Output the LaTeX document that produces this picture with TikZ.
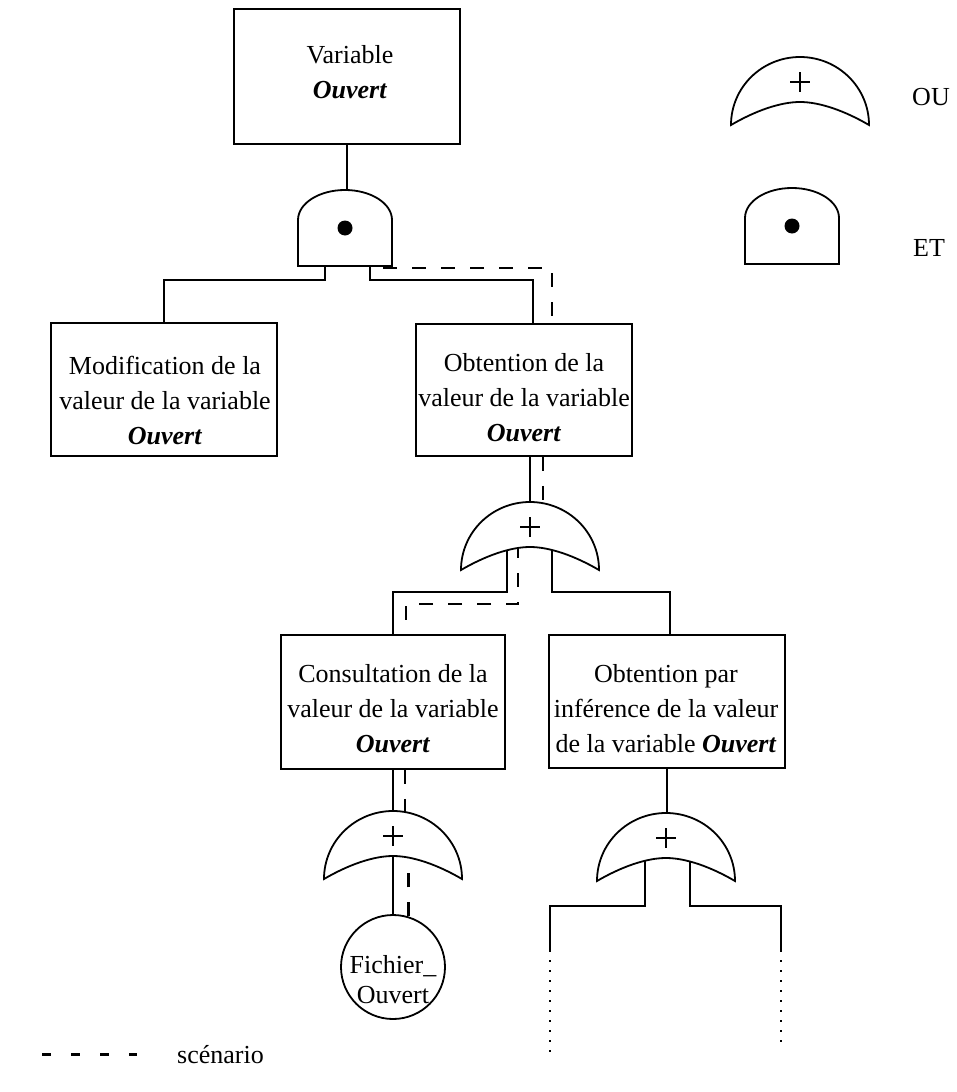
\documentclass[tikz,border=0pt]{standalone}
\usepackage{fontspec}
\setmainfont{Liberation Serif}
\usetikzlibrary{calc}

\begin{document}
\begin{tikzpicture}[x=1pt,y=-1pt,
  evbox/.style={draw, rectangle, fill=white, inner sep=0pt, line width=1.8pt},
  txt/.style={align=center, inner sep=0pt, font=\fontsize{26}{35}\selectfont},
  wire/.style={line width=1.7pt},
  scen/.style={line width=2.4pt, dash pattern=on 14pt off 15pt},
  cutline/.style={line width=1.9pt, dash pattern=on 2pt off 8pt},
  orgate/.pic={
    \draw[fill=white, line width=1.8pt]
      (-69,68) .. controls (-69,30.4) and (-38.1,0) .. (0,0)
      .. controls (38.1,0) and (69,30.4) .. (69,68)
      .. controls (45,54) and (20,45) .. (0,45)
      .. controls (-20,45) and (-45,54) .. (-69,68) -- cycle;
    \draw[line width=1.8pt] (-10,25) -- (10,25) (0,15) -- (0,35);
  },
  andgate/.pic={
    \draw[fill=white, line width=1.8pt]
      (-47,76) -- (-47,30) .. controls (-47,13.4) and (-26,0) .. (0,0)
      .. controls (26,0) and (47,13.4) .. (47,30) -- (47,76) -- cycle;
    \fill (0,38) circle (7.5pt);
  }
]
\useasboundingbox (0,0) rectangle (956,1092);

% events
\node[evbox, minimum width=226pt, minimum height=135pt] (var) at (347,76.5) {};
\node[txt] (varT) at (350,72.5) {Variable\\\textbf{\textit{Ouvert}}};

\node[evbox, minimum width=226pt, minimum height=133pt] (b1) at (164,389.5) {};
\node[txt] (b1T) at (165,400) {Modification de la\\valeur de la variable\\\textbf{\textit{Ouvert}}};

\node[evbox, minimum width=216pt, minimum height=132pt] (b2) at (524,390) {};
\node[txt] (b2T) at (524,398) {Obtention de la\\valeur de la variable\\\textbf{\textit{Ouvert}}};

\node[evbox, minimum width=224pt, minimum height=134pt] (b3) at (393,702) {};
\node[txt] (b3T) at (393,708.5) {Consultation de la\\valeur de la variable\\\textbf{\textit{Ouvert}}};

\node[evbox, minimum width=236pt, minimum height=133pt] (b4) at (667,701.5) {};
\node[txt] (b4T) at (666,709) {Obtention par\\inférence de la valeur\\de la variable \textbf{\textit{Ouvert}}};

\node[draw, circle, fill=white, line width=1.8pt, minimum size=104pt, inner sep=0pt] (fo) at (393,967) {};
\node[txt, font=\fontsize{26}{30}\selectfont] (foT) at (393,980) {Fichier\_\\Ouvert};

% gate positions (top centre of each gate)
\coordinate (and) at (345,190);
\coordinate (or1) at (530,502);
\coordinate (or2) at (393,811);
\coordinate (or3) at (666,813);
\coordinate (leg-ou) at (800,57);
\coordinate (leg-et) at (792,188);

% open ends of the unexpanded branches
\coordinate (cutL) at (550,950);
\coordinate (cutLend) at (550,1053);
\coordinate (cutR) at (781,950);
\coordinate (cutRend) at (781,1045);

% solid connectors
\draw[wire] (var.south) -- (var.south |- and);
\draw[wire] ($(and)+(-20,70)$) -- ($(and)+(-20,90)$) -| (b1.north);
\draw[wire] ($(and)+(25,70)$) -- ($(and)+(25,90)$) -| ([xshift=9pt]b2.north);
\draw[wire] ([xshift=6pt]b2.south) -- ([xshift=6pt]b2.south |- or1);
\draw[wire] ($(or1)+(-23,40)$) -- ($(or1)+(-23,90)$) -| (b3.north);
\draw[wire] ($(or1)+(22,40)$) -- ($(or1)+(22,90)$) -| ([xshift=3pt]b4.north);
\draw[wire] (b3.south) -- (b3.south |- or2);
\draw[wire] ($(or2)+(0,40)$) -- (fo.north);
\draw[wire] (b4.south) -- (b4.south |- or3);
\draw[wire] ($(or3)+(-21,40)$) -- ($(or3)+(-21,93)$) -| (cutL);
\draw[wire] ($(or3)+(24,40)$) -- ($(or3)+(24,93)$) -| (cutR);
\draw[cutline] (cutL) -- (cutLend);
\draw[cutline] (cutR) -- (cutRend);

% scenario path
\draw[scen] ($(and)+(38,78)$) -| ([xshift=28pt]b2.north);
\draw[scen] ([xshift=19pt]b2.south) -- ++(0,48);
\draw[scen] ($(or1)+(-12,42)$) -- ($(or1)+(-12,102)$) -| ([xshift=13pt]b3.north);
\draw[scen] ([xshift=12pt]b3.south) -- ++(0,45);
\draw[scen] (fo.73) -- ++(0,-60);

% gates
\pic at (and) {andgate};
\pic at (or1) {orgate};
\pic at (or2) {orgate};
\pic at (or3) {orgate};

% legend
\pic at (leg-ou) {orgate};
\node[txt] (ou) at (931,97) {OU};
\pic at (leg-et) {andgate};
\node[txt] (et) at (929,248) {ET};
\coordinate (ls1) at (42,1054);
\coordinate (ls2) at (137,1054);
\draw[scen, line width=3pt, dash pattern=on 9pt off 20pt] (ls1) -- (ls2);
\node[txt, anchor=west] (sc) at (177,1054.5) {scénario};
\end{tikzpicture}
\end{document}
